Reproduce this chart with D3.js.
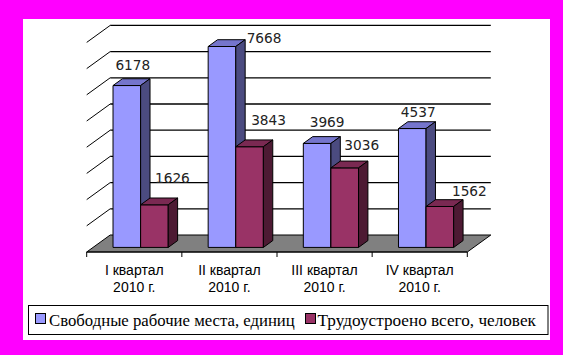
<!DOCTYPE html>
<html>
<head>
<meta charset="utf-8">
<script src="https://cdn.jsdelivr.net/npm/d3@7"></script>
<style>
  html, body { margin: 0; padding: 0; background: #FF00FF; }
  svg { display: block; }
</style>
</head>
<body>
<svg id="chart" width="563" height="355"></svg>
<script>
// ---- data ----
const categories = ["I квартал|2010 г.", "II квартал|2010 г.", "III квартал|2010 г.", "IV квартал|2010 г."];
const seriesNames = ["Свободные рабочие места, единиц", "Трудоустроено всего, человек"];
const vacancies = [6178, 7668, 3969, 4537];
const employed = [1626, 3843, 3036, 1562];
const yTicks = [0, 1000, 2000, 3000, 4000, 5000, 6000, 7000, 8000];

// ---- layout ----
const W = 563, H = 355;
const svg = d3.select("#chart");
const depthX = 23.5, depthY = -17;        // full floor depth projection
const faceD = 0.27, barD = 0.4;           // bar front depth & bar thickness (fraction)
const colors = [
  { front: "#9999FF", top: "#7575CC", side: "#4B4B80" },
  { front: "#993366", top: "#7A2952", side: "#4D1A33" }
];
// small label nudges [dx, dy] per series / category (layout only)
const labelNudge = [
  [[0, -1], [0, 0], [4, -1.5], [0, 3]],
  [[0, -1.5], [1, -2], [-1, 2.5], [11.5, 9.5]]
];

svg.append("rect").attr("width", W).attr("height", H).attr("fill", "#FF00FF");
svg.append("rect").attr("x", 23).attr("y", 19).attr("width", 527).attr("height", 321).attr("fill", "#FFFFFF");

const x = d3.scaleBand().domain(categories).range([86.7, 467.3]);
const y = d3.scaleLinear().domain([0, 8000]).range([252, 42.4]);

const proj = (px, py, d) => [px + depthX * d, py + depthY * d];
const poly = pts => pts.map(p => p.join(",")).join(" ");

// floor
const x0 = x.range()[0], x1 = x.range()[1];
svg.append("polygon")
  .attr("points", poly([[x0, y(0)], [x1, y(0)], proj(x1, y(0), 1), proj(x0, y(0), 1)]))
  .attr("fill", "#808080").attr("stroke", "#000").attr("stroke-width", 1);

// gridlines (back wall + side diagonals)
const grid = svg.append("g");
yTicks.filter(v => v > 0).forEach(v => {
  const bl = proj(x0, y(v), 1), br = proj(x1, y(v), 1);
  grid.append("line").attr("x1", bl[0]).attr("y1", bl[1]).attr("x2", br[0]).attr("y2", br[1])
    .attr("stroke", "#000").attr("stroke-width", 1.3);
  grid.append("line").attr("x1", x0).attr("y1", y(v)).attr("x2", bl[0]).attr("y2", bl[1])
    .attr("stroke", "#000").attr("stroke-width", 1);
});

// x axis ticks
const axis = svg.append("g");
axis.append("line").attr("x1", x0).attr("x2", x1).attr("y1", y(0)).attr("y2", y(0)).attr("stroke", "#000");
const bounds = categories.map(c => x(c)).concat([x1]);
bounds.forEach(b => axis.append("line").attr("x1", b).attr("x2", b).attr("y1", y(0)).attr("y2", y(0) + 5).attr("stroke", "#000"));

categories.forEach(c => {
  const lines = c.split("|");
  const t = axis.append("text").attr("x", x(c) + x.bandwidth() / 2).attr("y", 275)
    .attr("text-anchor", "middle").attr("font-family", "'Liberation Sans', Arial, sans-serif")
    .attr("font-size", 14).attr("fill", "#000");
  lines.forEach((l, i) => t.append("tspan").attr("x", x(c) + x.bandwidth() / 2).attr("dy", i === 0 ? 0 : 17).text(l));
});

// bars
const bw = 27.6;
const series = [vacancies, employed];
const bars = svg.append("g");
const labels = svg.append("g");
categories.forEach((c, i) => {
  const gap = (x.bandwidth() - 2 * bw) / 2;
  series.forEach((vals, s) => {
    const v = vals[i];
    const fx = x(c) + gap + s * bw;               // front-projected x at depth 0
    const p0 = proj(fx, y(0), faceD), p1 = proj(fx + bw, y(0), faceD);
    const t0 = proj(fx, y(v), faceD), t1 = proj(fx + bw, y(v), faceD);
    const bT0 = proj(t0[0], t0[1], barD), bT1 = proj(t1[0], t1[1], barD);
    const bB1 = proj(p1[0], p1[1], barD);
    const col = colors[s];
    const g = bars.append("g").attr("stroke", "#000").attr("stroke-width", 1).attr("stroke-linejoin", "round");
    g.append("polygon").attr("points", poly([p0, p1, t1, t0])).attr("fill", col.front);
    g.append("polygon").attr("points", poly([t0, t1, bT1, bT0])).attr("fill", col.top);
    g.append("polygon").attr("points", poly([p1, bB1, bT1, t1])).attr("fill", col.side);

    // data label
    const cx = (t0[0] + t1[0]) / 2;
    let lx, ly, anchor = "middle";
    if (s === 0) { lx = cx + 6; ly = t0[1] - 15; }
    else { lx = cx + 18; ly = t0[1] - 20; }
    if (ly < 45) { lx = bT1[0] + 1.5; ly = t0[1] - 4; anchor = "start"; }
    lx += labelNudge[s][i][0]; ly += labelNudge[s][i][1];
    labels.append("text").attr("x", lx).attr("y", ly).attr("text-anchor", anchor)
      .attr("font-family", "'DejaVu Sans', Verdana, sans-serif").attr("font-size", 13.7)
      .attr("fill", "#222").text(v);
  });
});

// legend
const lg = svg.append("g");
lg.append("rect").attr("x", 28.5).attr("y", 305.5).attr("width", 519.5).attr("height", 29)
  .attr("fill", "#fff").attr("stroke", "#000").attr("stroke-width", 1);
const legendItems = [{ mx: 35.5, tx: 49, w: 246 }, { mx: 305.5, tx: 317.5, w: 218.5 }];
seriesNames.forEach((n, i) => {
  lg.append("rect").attr("x", legendItems[i].mx).attr("y", 313.5).attr("width", 10).attr("height", 10)
    .attr("fill", colors[i].front).attr("stroke", "#000");
  const t = lg.append("text").attr("x", legendItems[i].tx).attr("y", 325.5)
    .attr("font-family", "'Liberation Serif', 'Times New Roman', serif").attr("font-size", 16)
    .attr("fill", "#000").text(n);
  const len = t.node().getComputedTextLength();
  if (len > 0) t.attr("font-size", 16 * legendItems[i].w / len);
});
</script>
</body>
</html>
